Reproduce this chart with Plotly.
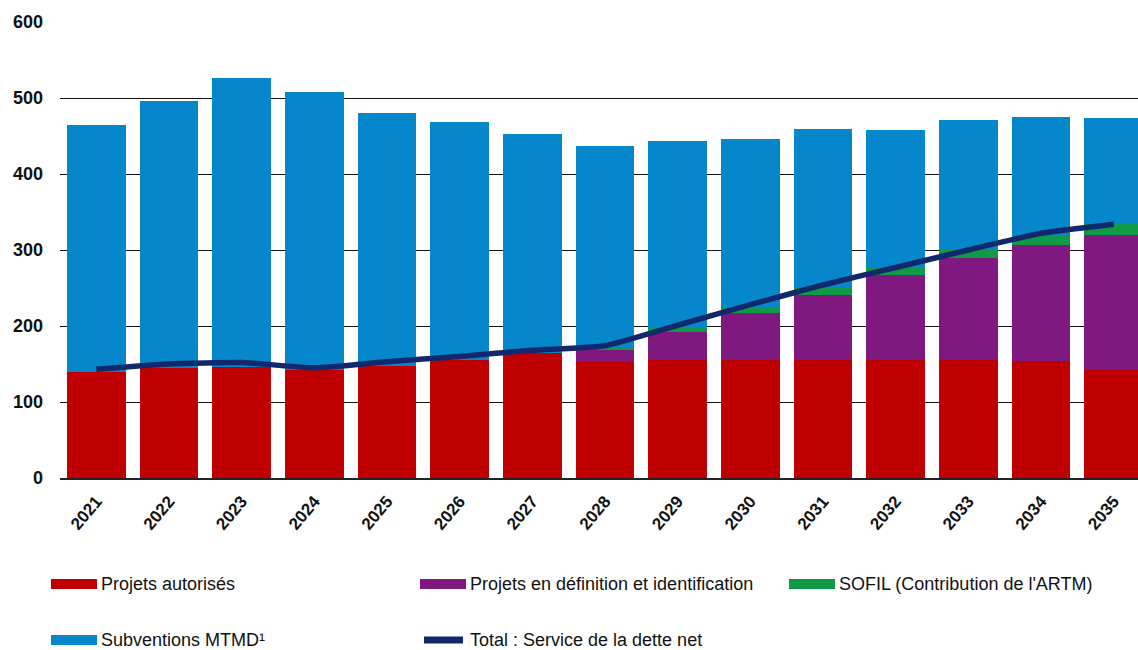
import plotly.graph_objects as go

# Service de la dette, en millions de dollars
years = [str(y) for y in range(2021, 2036)]
projets_autorises = [140, 145, 146, 142, 147, 155, 164, 152, 155, 155, 155, 155, 155, 154, 142]
projets_definition = [0, 0, 0, 0, 0, 0, 0, 17, 37, 62, 86, 112, 134, 153, 178]
sofil_artm = [0, 0, 0, 0, 0, 0, 0, 2, 5, 8, 9, 11, 12, 13, 14]
subventions_mtmd = [324, 351, 380, 366, 333, 313, 289, 266, 246, 221, 209, 180, 170, 155, 140]
service_dette_net = [143, 150, 152, 145, 153, 160, 168, 174, 201, 228, 254, 277, 300, 322, 334]

y_ticks = [0, 100, 200, 300, 400, 500, 600]

RED = "#C00000"
PURPLE = "#80197F"
GREEN = "#0F9A47"
BLUE = "#0787CB"
NAVY = "#11296C"

W, H = 1138, 650
ML, MR, MT, MB = 60, 0, 22, 172
PW, PH = W - ML - MR, H - MT - MB

fig = go.Figure()
for name, vals, col in [
    ("Projets autorisés", projets_autorises, RED),
    ("Projets en définition et identification", projets_definition, PURPLE),
    ("SOFIL (Contribution de l'ARTM)", sofil_artm, GREEN),
    ("Subventions MTMD¹", subventions_mtmd, BLUE),
]:
    fig.add_trace(go.Bar(x=years, y=vals, name=name, marker=dict(color=col, line_width=0),
                         showlegend=False))

fig.add_trace(go.Scatter(x=years, y=service_dette_net, mode="lines",
                         name="Total : Service de la dette net",
                         line=dict(color=NAVY, width=5.5, shape="spline", smoothing=0.5),
                         showlegend=False))


def px_x(px):
    return (px - ML) / PW


def px_y(py):
    return (H - MB - py) / PH


# Legend drawn as swatches + labels under the plot
legend_items = [
    ("Projets autorisés", RED, 51, 584, "rect"),
    ("Projets en définition et identification", PURPLE, 420, 584, "rect"),
    ("SOFIL (Contribution de l'ARTM)", GREEN, 789, 584, "rect"),
    ("Subventions MTMD¹", BLUE, 51, 640, "rect"),
    ("Total : Service de la dette net", NAVY, 420, 640, "line"),
]
shapes = []
annotations = []
for label, col, x0, yc, kind in legend_items:
    if kind == "rect":
        shapes.append(dict(type="rect", xref="paper", yref="paper",
                           x0=px_x(x0), x1=px_x(x0 + 46), y0=px_y(yc + 5), y1=px_y(yc - 5),
                           fillcolor=col, line_width=0))
    else:
        shapes.append(dict(type="line", xref="paper", yref="paper",
                           x0=px_x(x0 + 4), x1=px_x(x0 + 43), y0=px_y(yc), y1=px_y(yc),
                           line=dict(color=col, width=7)))
    annotations.append(dict(text=label, xref="paper", yref="paper",
                            x=px_x(x0 + 48), y=px_y(yc), xanchor="left", yanchor="middle",
                            showarrow=False,
                            font=dict(family="Liberation Sans", size=18, color="#111")))

fig.update_layout(
    width=W, height=H, autosize=False,
    margin=dict(l=ML, r=MR, t=MT, b=MB),
    barmode="stack", bargap=0.19,
    plot_bgcolor="white", paper_bgcolor="white",
    shapes=shapes, annotations=annotations,
    xaxis=dict(type="category", range=[-0.5, 14.335], tickangle=-50,
               showline=True, linecolor="#222", linewidth=1.5, ticks="",
               ticklabelstandoff=5,
               tickfont=dict(family="Liberation Sans", size=17, color="#111", weight="bold"),
               showgrid=False),
    yaxis=dict(range=[0, 600], tickvals=y_ticks, showgrid=True, gridcolor="#111",
               gridwidth=1, zeroline=False, showline=False, ticks="",
               ticklabelstandoff=16,
               tickfont=dict(family="Liberation Sans", size=18, color="#111", weight="bold")),
)

fig.write_html("out.html")
